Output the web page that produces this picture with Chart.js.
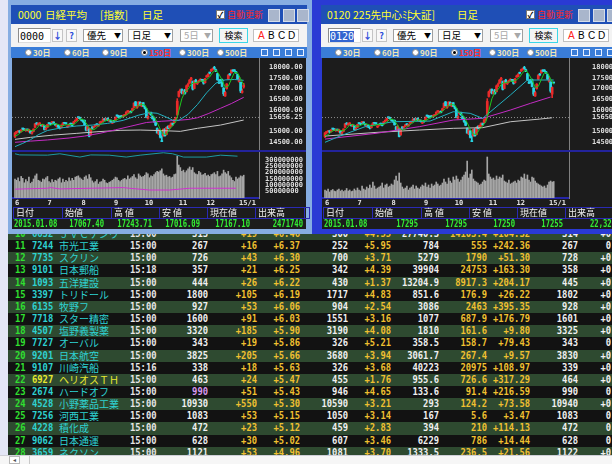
<!DOCTYPE html>
<html>
<head>
<meta charset="utf-8">
<title>日経平均 日足</title>
<script src="https://cdn.jsdelivr.net/npm/chart.js@4.4.1/dist/chart.umd.min.js"></script>
<style>
  body { margin: 0; width: 612px; height: 464px; overflow: hidden; position: relative; background: #e4e6f6; font-family: "Noto Sans CJK JP", sans-serif; }
  .abs { position: absolute; box-sizing: border-box; white-space: nowrap; }
  .num { font-family: "DejaVu Sans Mono", monospace; font-weight: bold; }
  .jp { font-family: "Noto Sans CJK JP", sans-serif; }
</style>
</head>
<body>
<script>
// ---- 日経平均 (0000), daily 2014-06-02 .. 2015-01-08, day index 0..148
const monthTicks = [0, 21, 43, 64, 84, 106, 124, 145];
const monthLabels = ['6', '7', '8', '9', '10', '11', '12', '15/1'];

const nkOpen = [14770,14960,14990,15030,15000,15130,15120,15040,15090,14990,15030,14920,15010,15200,15380,15310,15350,15310,15250,15280,15110,
  15200,15390,15370,15420,15440,15330,15230,15290,15190,15180,15320,15420,15380,15210,15290,15380,15370,15380,15480,15530,15670,15640,
  15540,15510,15520,15210,15070,15120,14840,15180,15200,15250,15330,15260,15390,15440,15480,15580,15560,15610,15490,15520,15390,
  15480,15520,15740,15730,15680,15730,15690,15750,15800,15930,15890,15940,15990,16120,16380,16110,16200,16360,16170,16340,
  16150,16050,15620,15820,15880,15700,15650,15450,15140,14890,15030,14560,14800,15110,14860,15240,15180,15260,15330,15420,15560,15790,
  16630,16830,16960,16760,16940,16850,17140,17250,17420,17330,17000,17390,17230,17330,17380,17390,17410,17270,
  17530,17570,17740,17810,17880,17980,17870,17690,17280,17380,17420,17020,16650,17000,17440,17650,17730,17850,17840,17780,17650,
  17325,17290,16820,17067.40];
const nkHigh = [14950,15000,15050,15060,15090,15150,15140,15120,15120,15110,15050,15000,15130,15370,15420,15400,15420,15320,15340,15300,15180,
  15340,15410,15400,15450,15460,15340,15330,15300,15230,15320,15420,15430,15400,15270,15350,15400,15390,15470,15540,15630,15680,15660,
  15570,15530,15540,15240,15280,15140,15150,15240,15240,15330,15360,15330,15460,15470,15590,15620,15620,15640,15560,15540,15460,
  15500,15680,15760,15750,15710,15740,15760,15800,15920,15960,15950,15960,16090,16330,16400,16200,16390,16380,16330,16350,
  16190,16080,15740,15900,15900,15730,15670,15460,15170,15100,15050,14800,15120,15140,15210,15260,15300,15400,15400,15570,15670,16530,
  16880,16980,16980,16900,16960,17160,17250,17420,17520,17350,17370,17430,17320,17390,17460,17420,17420,17470,
  17620,17690,17760,17900,17960,18030,17900,17700,17420,17420,17440,17040,16880,17230,17650,17700,17870,17880,17880,17800,17660,
  17540,17300,16980,17243.71];
const nkLow = [14720,14900,14960,14940,14970,15080,15040,15010,15040,14970,14920,14880,14990,15180,15310,15290,15330,15250,15230,15070,15080,
  15180,15340,15320,15380,15360,15280,15200,15180,15120,15160,15300,15350,15340,15180,15260,15300,15260,15350,15460,15500,15600,15590,
  15490,15430,15300,15030,15040,14753,14830,15110,15160,15220,15280,15250,15380,15400,15460,15520,15540,15500,15470,15440,15370,
  15420,15500,15700,15640,15620,15680,15670,15720,15780,15900,15860,15860,15970,16100,16180,16080,16180,16210,16150,16160,
  16050,15640,15570,15800,15750,15580,15420,15270,14920,14850,14700,14529,14780,14780,14840,15120,15150,15250,15280,15400,15520,15735,
  16600,16800,16750,16740,16740,16840,17080,17230,17380,16930,16980,17250,17180,17280,17350,17330,17200,17250,
  17520,17550,17680,17790,17850,17890,17780,17380,17230,17250,17070,16672,16630,16970,17420,17590,17710,17780,17790,17700,17420,
  17300,16808,16780,17016.09];
const nkClose = [14935,14976,15034,14981,15077,15124,15069,15099,15069,15097,14933,14975,15115,15361,15349,15369,15376,15267,15308,15095,15162,
  15326,15369,15348,15437,15379,15314,15302,15216,15164,15297,15395,15379,15370,15215,15343,15328,15284,15457,15529,15618,15646,15621,
  15523,15474,15320,15066,15232,14778,15130,15161,15213,15314,15318,15322,15449,15454,15586,15539,15613,15521,15534,15459,15424,
  15476,15668,15728,15676,15668,15705,15749,15788,15909,15948,15911,15888,16067,16321,16205,16167,16374,16229,16310,16173,
  16082,15661,15708,15890,15783,15595,15478,15300,14936,15073,14738,14532,15111,14804,15195,15138,15291,15388,15329,15553,15658,16413,
  16862,16937,16792,16880,16780,17124,17197,17392,17490,16973,17344,17288,17300,17357,17407,17383,17248,17459,
  17590,17663,17720,17887,17920,17935,17813,17412,17257,17371,17099,16755,16819,17210,17621,17635,17854,17808,17818,17729,17451,
  17408,16883,16885,17167.10];
// volume, millions (axis units)
const nkVol = [150,140,160,130,170,155,120,145,130,165,115,125,150,175,190,140,135,125,150,145,160,
  170,130,120,145,125,140,135,150,160,120,150,125,140,130,160,135,155,140,165,170,175,160,
  150,140,165,175,150,185,160,135,120,130,145,110,125,130,150,140,120,115,125,130,140,
  150,165,160,140,130,140,150,155,145,175,150,160,170,185,160,150,190,175,165,170,
  180,200,190,160,175,170,185,200,210,205,215,230,190,175,180,165,170,160,165,185,190,330,
  260,240,210,220,200,215,230,245,220,240,200,190,185,210,200,180,185,195,
  175,180,170,185,190,200,185,210,170,175,190,220,200,190,210,175,160,140,130,165,150,
  160,175,170,180];
// moving averages [day, value]
const nkMa5 = [[0,14800],[2,14850],[4,15001],[6,15057],[8,15088],[10,15053],[12,15038],[14,15147],[16,15314],[18,15334],[20,15242],[22,15252],[24,15328],[26,15369],[28,15330],[30,15259],[32,15290],[34,15331],[36,15327],[38,15325],[40,15443],[42,15574],[44,15576],[46,15401],[48,15174],[50,15073],[52,15119],[54,15266],[56,15371],[58,15470],[60,15543],[62,15533],[64,15483],[66,15551],[68,15643],[70,15705],[72,15764],[74,15861],[76,15945],[78,16078],[80,16227],[82,16257],[84,16234],[86,15987],[88,15825],[90,15691],[92,15418],[94,15105],[96,14878],[98,14876],[100,15108],[102,15268],[104,15444],[105,15668],[106,15963],[108,16532],[110,16850],[112,16955],[114,17197],[116,17279],[118,17279],[120,17339],[122,17339],[124,17417],[126,17536],[128,17756],[130,17855],[132,17667],[134,17390],[136,17060],[138,17101],[140,17428],[142,17747],[144,17732],[146,17458],[148,17159]];
const nkMa25 = [[0,14300],[5,14450],[10,14620],[15,14850],[21,15050],[30,15170],[40,15260],[50,15300],[60,15380],[70,15520],[80,15760],[87,15880],[92,15850],[97,15700],[102,15530],[106,15520],[112,15800],[118,16250],[124,16800],[130,17250],[136,17400],[142,17420],[148,17380]];
const nkMa75 = [[0,14500],[10,14555],[21,14610],[35,14700],[45,14790],[55,14920],[65,15080],[75,15250],[85,15420],[95,15480],[105,15520],[112,15560],[118,15640],[125,15830],[133,16080],[140,16300],[148,16590]];
const nkMa200 = [[0,14637],[10,14730],[25,14837],[40,14916],[53,14990],[68,15056],[81,15070],[96,15040],[107,15009],[118,15149],[133,15302],[148,15535]];
const nkVolLineA = [[0,349],[3,340],[21,338],[29,349],[42,323],[49,340],[61,338],[72,323],[81,338],[96,357],[102,349],[109,323],[124,323],[133,338],[144,330]];
const nkVolLineB = [[0,70],[21,77],[23,82],[29,72],[70,82],[74,77],[87,63],[100,63],[113,77],[139,77],[143,77]];
const nkRef = 15656.25;
const nkTicks = [14500, 15000, 15656.25, 16000, 16500, 17000, 17500, 18000];
const nkTickLabels = ['14500.00', '15000.00', '15656.25', '16000.00', '16500.00', '17000.00', '17500.00', '18000.00'];
const volTicks = [50, 100, 150, 200, 250, 300];

// ---- 225先中心ミニ (0120)
const fOpen = [14770,14960,14990,15030,15000,15130,15120,15040,15090,14990,15030,14920,15010,15200,15380,15310,15350,15310,15250,15280,15110,
  15200,15390,15370,15420,15440,15330,15230,15290,15190,15180,15320,15420,15380,15210,15290,15380,15370,15380,15480,15530,15670,15640,
  15540,15510,15520,15210,15070,15120,14840,15180,15200,15250,15330,15260,15390,15440,15480,15580,15560,15610,15490,15520,15390,
  15480,15520,15740,15730,15680,15730,15690,15750,15800,15930,15890,15940,15990,16120,16380,16110,16200,16360,16170,16340,
  16150,16050,15620,15820,15880,15700,15650,15450,15140,14890,15030,14560,14800,15110,14860,15240,15180,15260,15330,15420,15560,15790,
  16630,16830,16960,16760,16940,16850,17140,17250,17420,17330,17000,17390,17230,17330,17380,17390,17410,17270,
  17530,17570,17740,17810,17880,17980,17870,17690,17280,17380,17420,17020,16650,17000,17440,17650,17730,17850,17840,17780,17650,
  17340,17300,16740,17295];
const fHigh = [14950,15000,15050,15060,15090,15150,15140,15120,15120,15110,15050,15000,15130,15370,15420,15400,15420,15320,15340,15300,15180,
  15340,15410,15400,15450,15460,15340,15330,15300,15230,15320,15420,15430,15400,15270,15350,15400,15390,15470,15540,15630,15680,15660,
  15570,15530,15540,15240,15280,15140,15150,15240,15240,15330,15360,15330,15460,15470,15590,15620,15620,15640,15560,15540,15460,
  15500,15680,15760,15750,15710,15740,15760,15800,15920,15960,15950,15960,16090,16330,16400,16200,16390,16380,16330,16350,
  16190,16080,15740,15900,15900,15730,15670,15460,15170,15100,15050,14800,15120,15140,15210,15260,15300,15400,15400,15570,15670,16530,
  16880,16980,16980,16900,16960,17160,17250,17420,17520,17350,17370,17430,17320,17390,17460,17420,17420,17470,
  17620,17690,17760,17900,17960,18030,17900,17700,17420,17420,17440,17040,16880,17230,17650,17700,17870,17880,17880,17800,17660,
  17540,17320,17080,17295];
const fLow = [14720,14900,14960,14940,14970,15080,15040,15010,15040,14970,14920,14880,14990,15180,15310,15290,15330,15250,15230,15070,15080,
  15180,15340,15320,15380,15360,15280,15200,15180,15120,15160,15300,15350,15340,15180,15260,15300,15260,15350,15460,15500,15600,15590,
  15490,15430,15300,15030,15040,14750,14830,15110,15160,15220,15280,15250,15380,15400,15460,15520,15540,15500,15470,15440,15370,
  15420,15500,15700,15640,15620,15680,15670,15720,15780,15900,15860,15860,15970,16100,16180,16080,16180,16210,16150,16160,
  16050,15640,15570,15800,15750,15580,15420,15270,14920,14850,14700,14530,14780,14780,14840,15120,15150,15250,15280,15400,15520,15735,
  16600,16800,16750,16740,16740,16840,17080,17230,17380,16930,16980,17250,17180,17280,17350,17330,17200,17250,
  17520,17550,17680,17790,17850,17890,17780,17380,17230,17250,17070,16670,16630,16970,17420,17590,17710,17780,17790,17700,17420,
  17290,16820,16570,17250];
const fClose = [14940,14980,15030,14990,15080,15120,15070,15100,15060,15090,14930,14970,15120,15360,15340,15370,15380,15270,15300,15090,15160,
  15320,15370,15350,15430,15380,15310,15300,15220,15160,15290,15390,15380,15370,15220,15340,15330,15280,15460,15530,15610,15640,15620,
  15520,15470,15310,15060,15230,14770,15120,15160,15210,15310,15320,15320,15450,15450,15580,15540,15610,15520,15530,15460,15420,
  15470,15670,15720,15670,15670,15700,15750,15780,15900,15940,15910,15880,16060,16310,16200,16160,16370,16220,16310,16170,
  16080,15650,15700,15880,15780,15590,15470,15290,14930,15070,14730,14530,15100,14800,15190,15130,15290,15380,15320,15550,15650,16400,
  16850,16930,16780,16870,16770,17120,17190,17390,17480,16960,17340,17280,17300,17350,17400,17380,17240,17450,
  17580,17650,17710,17880,17910,17930,17800,17400,17250,17360,17090,16740,16810,17200,17610,17630,17840,17800,17810,17720,17440,
  17380,16880,17050,17255];
const fVol = [800,700,900,600,750,850,700,650,800,900,700,800,650,750,950,700,800,650,700,900,750,
  1000,800,700,1200,900,800,1100,950,1300,1000,1600,1200,900,1000,1100,1200,1500,1000,1300,1400,1100,1200,
  1400,1300,1800,2200,1700,2500,1500,1100,900,1000,1200,800,1000,1100,1300,900,1200,1000,900,1100,1300,
  1200,1500,1100,1300,1000,1400,1200,1300,1600,1400,1200,1300,1500,1900,1600,1400,2000,1700,1500,2100,
  1800,2200,1900,1600,1800,2100,2300,2600,3700,2000,2400,2800,1900,1700,1600,1500,1300,1400,1600,1800,1700,4100,
  2400,2100,1900,2000,1800,2200,1900,2100,2000,2300,1700,1600,1500,1800,1400,1500,1600,1700,
  1500,1800,1700,2100,2000,2400,1900,2300,1800,1600,2100,2000,1700,1500,1400,1300,1200,1100,1200,1000,1300,
  1600,1700,1600,1650];
const fMa5 = [[0,14805],[2,14850],[4,15000],[6,15055],[8,15085],[10,15050],[12,15040],[14,15145],[16,15310],[18,15330],[20,15240],[22,15250],[24,15325],[26,15365],[28,15330],[30,15255],[32,15290],[34,15330],[36,15325],[38,15325],[40,15440],[42,15570],[44,15575],[46,15400],[48,15170],[50,15070],[52,15115],[54,15265],[56,15370],[58,15465],[60,15540],[62,15530],[64,15480],[66,15550],[68,15640],[70,15700],[72,15760],[74,15855],[76,15940],[78,16075],[80,16220],[82,16255],[84,16230],[86,15985],[88,15820],[90,15690],[92,15415],[94,15100],[96,14875],[98,14870],[100,15105],[102,15265],[104,15440],[105,15660],[106,15955],[108,16525],[110,16845],[112,16950],[114,17190],[116,17275],[118,17275],[120,17335],[122,17335],[124,17410],[126,17530],[128,17750],[130,17850],[132,17660],[134,17385],[136,17055],[138,17095],[140,17420],[142,17740],[144,17725],[146,17450],[148,17190]];
const fMa25 = [[0,14500],[10,14800],[26,15226],[44,15456],[68,15488],[83,15921],[94,15846],[102,15614],[120,16700],[131,17395],[148,17395]];
const fMa75 = [[0,14650],[33,14916],[61,15226],[83,15535],[102,15614],[120,16000],[133,16312],[146,16605]];
const fMa200 = [[0,14790],[33,14960],[61,15070],[83,15150],[102,15180],[120,15456],[139,15580],[147,15640]];
const fRef = 15650;
const fTicks = [14500, 15000, 15650, 16000, 16500, 17000, 17500, 18000];
const fTickLabels = ['14500', '15000', '15650', '16000', '16500', '17000', '17500', '18000'];

// ---- ranking table (rows 10..28)
const tblRank = ['10','11','12','13','14','15','16','17','18','19','20','21','22','23','24','25','26','27','28'];
const tblCode = ['6632','7244','7735','9101','1093','3397','6135','7718','4507','7727','9201','9107','6927','2674','4528','7256','4228','9062','3659'];
const tblName = ['ＪＶＣケンウ','市光工業','スクリン','日本郵船','五洋建設','トリドール','牧野フ','スター精密','塩野義製薬','オーバル','日本航空','川崎汽船','ヘリオスＴＨ','ハードオフ','小野薬品工業','河西工業','積化成','日本通運','ネクソン'];
const tblTime = ['15:00','15:00','15:00','15:18','15:00','15:00','15:00','15:00','15:00','15:00','15:00','15:16','15:00','15:00','15:00','15:00','15:00','15:00','15:00'];
const tblPrice = ['313','267','726','357','444','1800','927','1600','3320','343','3825','338','463','990','10930','1083','472','628','1121'];
const tblChg = ['+19','+16','+43','+21','+26','+105','+53','+91','+185','+19','+205','+18','+24','+51','+550','+53','+23','+30','+53'];
const tblPct = ['+6.46','+6.37','+6.30','+6.25','+6.22','+6.19','+6.06','+6.03','+5.90','+5.86','+5.66','+5.63','+5.47','+5.43','+5.30','+5.15','+5.12','+5.02','+4.96'];
const tblPrev = ['300','252','700','342','430','1717','904','1551','3190','326','3680','326','455','946','10590','1050','459','607','1081'];
const tblPrevPct = ['+4.55','+5.95','+3.71','+4.39','+1.37','+4.83','+2.54','+3.16','+4.08','+5.21','+3.94','+3.68','+1.76','+4.65','+3.21','+3.14','+2.83','+3.46','+3.70'];
const tblVol = ['27740.3','784','5279','39904','13204.9','851.6','3086','1077','1810','358.5','3061.7','40223','955.6','133.6','293','167','394','6229','1333.5'];
const tblAvgVol = ['14103.4','555','1790','24753','8917.3','176.9','2463','687.9','161.6','158.7','267.4','20975','726.6','91.4','124.2','5.6','210','786','236.5'];
const tblVolPct = ['+104.32','+242.36','+51.30','+163.30','+204.17','+26.22','+395.35','+176.79','+9.80','+79.43','+9.57','+108.97','+317.29','+216.59','+73.58','+3.47','+114.13','+14.44','+21.56'];
const tblHigh = ['314','267','728','358','445','1802','928','1601','3325','343','3830','339','464','990','10940','1083','472','628','1122'];
const tblLast = ['+0','0','+0','+0','+0','+0','+0','+0','+0','0','+0','+0','+0','0','+0','0','0','0','+0'];

// ---- layout helpers
const X_MIN = -1.94, X_MAX = 157.9;
const Y_MIN = 14096, Y_MAX = 18418;
const UP = '#e82a2a', DOWN = '#28d6e4';
const AXIS_FONT = { family: "'DejaVu Sans Mono', monospace", size: 7, weight: 'bold' };

function el(parent, x, y, w, h, css, text) {
  const d = document.createElement('div');
  d.className = 'abs';
  d.style.cssText = `left:${x}px;top:${y}px;width:${w}px;height:${h}px;` + (css || '');
  if (text !== undefined) d.textContent = text;
  parent.appendChild(d);
  return d;
}

// keep the plot filling the canvas: no extra room for edge labels
function fitY(s) { s.width = 47; s.paddingTop = 0; s.paddingBottom = 0; }
function fitX(s) { s.height = 10; s.paddingLeft = 0; s.paddingRight = 0; }

function buildPanel(left, cfg) {
  const p = el(document.body, left, 0, 312, 234, 'overflow:hidden;z-index:2;');
  el(p, cfg.frameX, 0, 312 - cfg.frameX, 234, `background:${cfg.frame};`);
  // title bar
  el(p, 11, 5, 296, 19, 'background:#1f4fb6;');
  cfg.title.forEach(t => el(p, t[1], 5, 80, 19, 'color:#ffff30;font-size:10.5px;line-height:19px;', t[0]));
  el(p, 216, 10, 9, 9, 'background:#fff;border:1px solid #777;color:#000;font-size:8px;line-height:7px;text-align:center;font-weight:bold;', '✓');
  el(p, 227, 5, 40, 19, 'color:#ff2828;font-size:9px;line-height:19px;', '自動更新');
  [268, 283, 297].forEach(x => el(p, x, 9, 12, 13, 'background:#a9b6cc;border:1px solid #d4dcea;'));
  // toolbar
  el(p, 11, 24, 296, 23, 'background:#f3f3f3;');
  const inp = el(p, 18, 28, 33, 15, 'background:#fff;border:1px solid #8c8c8c;border-right-color:#ddd;border-bottom-color:#ddd;font-size:10px;line-height:13px;padding-left:1px;');
  const code = document.createElement('span');
  code.className = 'num';
  code.textContent = cfg.code;
  code.style.cssText = 'font-weight:normal;' + (cfg.codeSel ? 'background:#3264d0;color:#fff;' : 'color:#000;');
  inp.appendChild(code);
  el(p, 52, 29, 11, 13, 'background:#f8f8f8;border:1px solid #c4c4c4;color:#2a48d8;font-size:9px;line-height:11px;text-align:center;font-weight:bold;', '↓');
  el(p, 66, 29, 11, 13, 'background:#f8f8f8;border:1px solid #c4c4c4;color:#2a48d8;font-size:9px;line-height:11px;text-align:center;font-weight:bold;', '?');
  [[83, 40, '優先', '#000'], [128, 45, '日足', '#000'], [180, 33, '5日', '#a8a8a8']].forEach(s => {
    const b = el(p, s[0], 29, s[1], 13, `background:#fff;border:1px solid #a0a0a0;color:${s[3]};font-size:9.5px;line-height:11px;padding-left:3px;`, s[2]);
    el(b, s[1] - 11, 0, 9, 11, `color:${s[3]};font-size:7px;line-height:11px;text-align:center;`, '▼');
  });
  el(p, 219, 28, 29, 15, 'background:#f4f4f4;border:1px solid #3cd6e8;font-size:9px;line-height:13px;text-align:center;color:#000;', '検索');
  el(p, 253, 29, 46, 13, 'background:#fff;border:1px solid #c0c0c0;');
  [['A', 258, '#ff2020'], ['B', 268, '#000'], ['C', 278, '#000'], ['D', 288, '#000']].forEach(a =>
    el(p, a[1], 29, 10, 13, `color:${a[2]};font-family:'Liberation Sans',sans-serif;font-size:10px;line-height:13px;`, a[0]));
  // radio row
  el(p, 11, 47, 296, 11, 'background:#3a7dd8;');
  [[25, '30日'], [64, '60日'], [102, '90日'], [141, '150日'], [179, '300日'], [217, '500日']].forEach((r, i) => {
    el(p, r[0], 49, 7, 7, 'background:#fff;border-radius:50%;border:1px solid #888;');
    if (i === 3) el(p, r[0] + 2, 51, 3, 3, 'background:#000;border-radius:50%;');
    el(p, r[0] + 8, 47, 30, 11, `color:${i === 3 ? '#ff3030' : '#f2e6b4'};font-size:8px;line-height:11px;font-weight:bold;`, r[1]);
  });
  [261, 273, 285, 297].forEach(x => el(p, x, 49, 7, 7, 'border:1px solid #e8f0ff;'));
  // chart background
  el(p, 12, 58, 294, 171, 'background:#1c1c1c;');
  const cPrice = document.createElement('canvas');
  cPrice.width = 294; cPrice.height = 93;
  cPrice.className = 'abs'; cPrice.style.left = '12px'; cPrice.style.top = '58px';
  p.appendChild(cPrice);
  const cVol = document.createElement('canvas');
  cVol.width = 294; cVol.height = 57;
  cVol.className = 'abs'; cVol.style.left = '12px'; cVol.style.top = '151px';
  p.appendChild(cVol);
  el(p, 12, 150, 294, 2, 'background:#23239c;');
  // quote header
  const heads = ['日付', '始値', '高 値', '安 値', '現在値', '出来高'];
  const hx = [13, 62, 111, 159, 207, 255, 304];
  heads.forEach((h, i) => el(p, hx[i], 207, hx[i + 1] - hx[i] + 1, 12, 'border:1px solid #2a2ab4;color:#f0f0f0;font-size:9px;line-height:10px;padding-left:2px;', h));
  el(p, 304, 207, 6, 12, 'border:1px solid #2a2ab4;');
  el(p, 14, 219, 60, 10, 'color:#34f034;font-size:10px;line-height:10px;transform:scaleX(.72);transform-origin:left center;', cfg.quote[0]).classList.add('num');
  cfg.quote.slice(1).forEach((q, i) => el(p, cfg.quoteX[i] - 60, 219, 60, 10, 'color:#34f034;font-size:10px;line-height:10px;text-align:right;transform:scaleX(.72);transform-origin:right center;', q).classList.add('num'));
  return { cPrice, cVol };
}

function pts(arr) { return arr.map(p => ({ x: p[0], y: p[1] })); }

function drawPrice(canvas, o, h, l, c, mas, ref, ticks, labels, pad) {
  const col = ctx => (c[ctx.dataIndex] >= o[ctx.dataIndex] ? UP : DOWN);
  const maColors = ['#1ec81e', '#22b0c0', '#c42cc4', '#c4c4c4'];
  const lines = mas.map((m, k) => ({
    type: 'line', data: pts(m), borderColor: maColors[k], borderWidth: 1, pointRadius: 0
  }));
  return new Chart(canvas, {
    type: 'bar',
    data: {
      datasets: [...lines,
        { type: 'line', data: [{ x: X_MIN, y: ref }, { x: X_MAX, y: ref }], borderColor: '#8e8e8e', borderWidth: 1, borderDash: [1, 2], pointRadius: 0 },
        { data: c.map((v, i) => ({ x: i, y: [o[i], v] })), backgroundColor: col, barThickness: 2, grouped: false, minBarLength: 1 },
        { data: c.map((v, i) => ({ x: i, y: [l[i], h[i]] })), backgroundColor: col, barThickness: 1, grouped: false }
      ]
    },
    options: {
      responsive: false, animation: false, devicePixelRatio: 1, events: [],
      layout: { padding: 0 },
      plugins: { legend: { display: false }, tooltip: { enabled: false } },
      scales: {
        x: { type: 'linear', min: X_MIN, max: X_MAX, display: false, offset: false },
        y: {
          position: 'right', min: Y_MIN, max: Y_MAX,
          grid: { display: false, drawTicks: false },
          border: { display: true, color: '#808080', dash: [1, 2] },
          afterFit: fitY,
          afterBuildTicks: s => { s.ticks = ticks.map(v => ({ value: v })); },
          ticks: { autoSkip: false, crossAlign: 'near', padding: pad, color: '#dedede', font: AXIS_FONT, callback: (v, i) => labels[i] }
        }
      }
    }
  });
}

function drawVolume(canvas, vol, yMax, extra, showLabels) {
  const lineColors = ['#1c9aa4', '#d030d0'];
  const lines = extra.map((m, k) => ({ type: 'line', data: pts(m), borderColor: lineColors[k], borderWidth: 1, pointRadius: 0 }));
  return new Chart(canvas, {
    type: 'bar',
    data: {
      datasets: [...lines,
        { data: vol.map((v, i) => ({ x: i, y: v })), backgroundColor: '#a6a6a6', barThickness: 1, grouped: false }
      ]
    },
    options: {
      responsive: false, animation: false, devicePixelRatio: 1, events: [],
      layout: { padding: { top: 1 } },
      plugins: { legend: { display: false }, tooltip: { enabled: false } },
      scales: {
        x: {
          type: 'linear', min: X_MIN, max: X_MAX, offset: false,
          grid: { display: false, drawTicks: false },
          border: { display: true, color: '#2626a8', width: 2 },
          afterFit: fitX,
          afterBuildTicks: s => { s.ticks = monthTicks.map(v => ({ value: v })); },
          ticks: { autoSkip: false, maxRotation: 0, align: 'start', padding: 1, color: '#e4e4e4', font: AXIS_FONT, callback: (v, i) => monthLabels[i] }
        },
        y: {
          position: 'right', min: 0, max: yMax,
          grid: { display: false, drawTicks: false },
          border: { display: true, color: '#808080', dash: [1, 2] },
          afterFit: fitY,
          afterBuildTicks: s => { s.ticks = volTicks.map(v => ({ value: v })); },
          ticks: { display: showLabels, autoSkip: false, crossAlign: 'near', padding: 6, color: '#dedede', font: AXIS_FONT, callback: v => String(v * 1000000) }
        }
      }
    }
  });
}

// ---- ranking table
const table = el(document.body, 8, 228, 604, 227, 'overflow:hidden;z-index:1;background:#111;');
tblRank.forEach((rank, r) => {
  const row = el(table, 0, r * 12.16 - 0.1, 604, 12.16, `background:${r % 2 === 0 ? '#2e4a30' : '#121212'};`);
  const cell = (x, text, color, right, jp) => {
    const css = `color:${color};line-height:12px;` + (jp
      ? 'font-size:10px;'
      : `font-size:11px;transform:scaleX(.8);transform-origin:${right ? 'right' : 'left'} center;`) + (right ? 'text-align:right;' : '');
    const d = el(row, right ? x - 8 - 80 : x - 8, 0, 80, 12, css, text);
    d.classList.add(jp ? 'jp' : 'num');
  };
  const nameCol = r === 12 ? '#e8e830' : '#2ed2d2';
  cell(15, rank, '#30e030');
  cell(32, tblCode[r], nameCol);
  cell(59, tblName[r], nameCol, false, true);
  cell(130, tblTime[r], '#e6e6e6');
  cell(208, tblPrice[r], r === 13 ? '#d898f0' : '#f0f0f0', true);
  cell(257, tblChg[r], '#f0c030', true);
  cell(300, tblPct[r], '#f0c030', true);
  cell(348, tblPrev[r], '#f0f0f0', true);
  cell(391, tblPrevPct[r], '#f0c030', true);
  cell(439, tblVol[r], '#f0f0f0', true);
  cell(487, tblAvgVol[r], '#f0c030', true);
  cell(530, tblVolPct[r], '#f0c030', true);
  cell(578, tblHigh[r], '#f0f0f0', true);
  cell(611, tblLast[r], '#f0f0f0', true);
});
// bottom strip
el(document.body, 0, 455, 612, 9, 'background:#f6f6f6;border-top:1px solid #d0d0d8;z-index:3;');
el(document.body, 9, 456, 11, 8, 'border:1px solid #b8b8b8;background:#fff;z-index:3;font-size:6px;line-height:6px;color:#555;text-align:center;', '◂');
el(document.body, 29, 456, 1, 8, 'background:#c8c8c8;z-index:3;');

// ---- panels + charts
const left = buildPanel(0, {
  frameX: 8, frame: '#86ade2', code: '0000', codeSel: false,
  title: [['0000', 18], ['日経平均', 45], ['[指数]', 100], ['日足', 142]],
  quote: ['2015.01.08', '17067.40', '17243.71', '17016.09', '17167.10', '2471740'],
  quoteX: [104, 152, 200, 250, 303]
});
const right = buildPanel(310, {
  frameX: 2, frame: '#2a3ad4', code: '0120', codeSel: true,
  title: [['0120', 17], ['225先中心ﾐﾆ', 43], ['[大証]', 97], ['日足', 147]],
  quote: ['2015.01.08', '17295', '17295', '17250', '17255', '22,320'],
  quoteX: [108, 157, 205, 253, 306]
});

drawPrice(left.cPrice, nkOpen, nkHigh, nkLow, nkClose, [nkMa5, nkMa25, nkMa75, nkMa200], nkRef, nkTicks, nkTickLabels, 10);
drawVolume(left.cVol, nkVol, 363, [nkVolLineA, nkVolLineB], true);
drawPrice(right.cPrice, fOpen, fHigh, fLow, fClose, [fMa5, fMa25, fMa75, fMa200], fRef, fTicks, fTickLabels, 23);
drawVolume(right.cVol, fVol, 4600, [], false);
</script>
</body>
</html>
